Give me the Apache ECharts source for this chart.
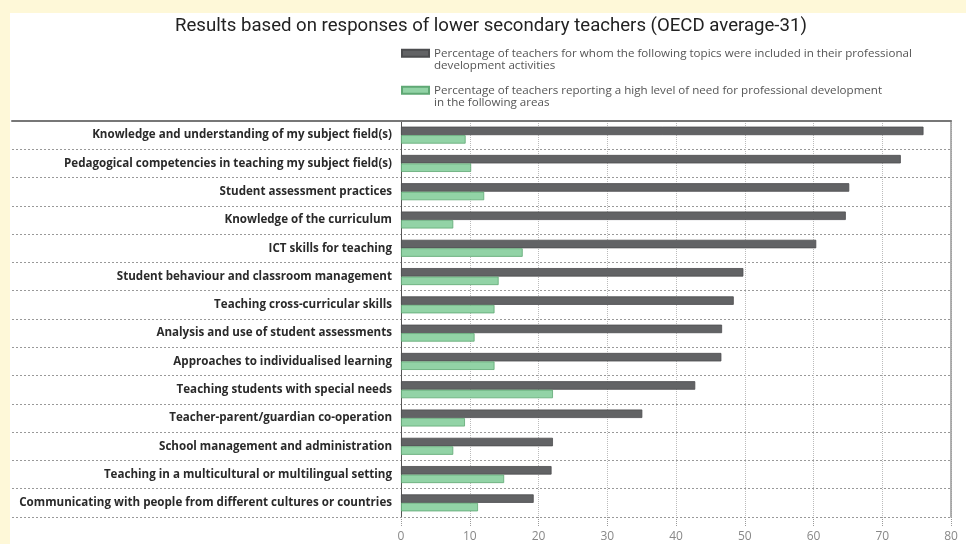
<!DOCTYPE html>
<html>
<head>
<meta charset="utf-8">
<script src="https://cdn.jsdelivr.net/npm/echarts@6/dist/echarts.min.js"></script>
<style>
  html, body { margin: 0; padding: 0; background: #fef8d8; }
  #panel { position: absolute; left: 10px; top: 13px; width: 956px; height: 531px; background: #fff; }
  #chart { position: absolute; left: 0; top: 0; width: 966px; height: 544px; }
</style>
</head>
<body>
<div id="panel"></div>
<div id="chart"></div>
<script>
// categories top to bottom, values in %
const categories = [
  'Knowledge and understanding of my subject field(s)',
  'Pedagogical competencies in teaching my subject field(s)',
  'Student assessment practices',
  'Knowledge of the curriculum',
  'ICT skills for teaching',
  'Student behaviour and classroom management',
  'Teaching cross-curricular skills',
  'Analysis and use of student assessments',
  'Approaches to individualised learning',
  'Teaching students with special needs',
  'Teacher-parent/guardian co-operation',
  'School management and administration',
  'Teaching in a multicultural or multilingual setting',
  'Communicating with people from different cultures or countries',
];
const includedPct = [76.0, 72.7, 65.2, 64.7, 60.4, 49.8, 48.4, 46.7, 46.6, 42.8, 35.1, 22.1, 21.9, 19.3];
const needPct = [9.4, 10.2, 12.1, 7.6, 17.7, 14.2, 13.6, 10.7, 13.6, 22.1, 9.3, 7.6, 15.0, 11.2];
const xTicks = [0, 10, 20, 30, 40, 50, 60, 70, 80];

const nameIncluded = 'Percentage of teachers for whom the following topics were included in their professional\ndevelopment activities';
const nameNeed = 'Percentage of teachers reporting a high level of need for professional development\nin the following areas';

const FONT = '"Open Sans", "Noto Sans", sans-serif';
const chart = echarts.init(document.getElementById('chart'));

// leading blank line keeps the swatch level with the first text line
const legendText = { fontFamily: FONT, fontSize: 11.6, color: '#555', lineHeight: 12.5 };
const legendBase = {
  left: 401, padding: 0, itemWidth: 27, itemHeight: 7, icon: 'rect',
  textStyle: legendText, selectedMode: false, formatter: (name) => '\n' + name,
};

chart.setOption({
  backgroundColor: 'transparent',
  animation: false,
  title: {
    text: 'Results based on responses of lower secondary teachers (OECD average-31)',
    left: 175, top: 17, padding: 0,
    textStyle: { fontFamily: 'Roboto, sans-serif', fontSize: 18.6, fontWeight: 'normal', color: '#222' },
  },
  legend: [
    { ...legendBase, data: [nameIncluded], top: 34.5 },
    { ...legendBase, data: [nameNeed], top: 71.5 },
  ],
  grid: [
    { left: 401, right: 15, top: 121, bottom: 27 },
    // frame + row separators across the label column
    { left: 12, right: 15, top: 121, bottom: 27 },
  ],
  xAxis: [
    {
      gridIndex: 0, type: 'value', min: 0, max: 80, interval: 10,
      axisLine: { show: false },
      axisTick: { show: true, length: 9, lineStyle: { color: '#999', type: 'dotted' } },
      axisLabel: {
        margin: 14, color: '#888', fontFamily: FONT, fontSize: 12,
        formatter: (v) => (xTicks.includes(v) ? String(v) : ''),
      },
      splitLine: { lineStyle: { color: '#bbb', type: 'dotted' } },
    },
    {
      gridIndex: 1, type: 'value', position: 'bottom', min: 0, max: 1,
      axisLine: { lineStyle: { color: '#666', width: 2 } },
      axisTick: { show: false }, axisLabel: { show: false }, splitLine: { show: false },
    },
    {
      gridIndex: 1, type: 'value', position: 'top', min: 0, max: 1,
      axisLine: { show: true, lineStyle: { color: '#777', width: 2 } },
      axisTick: { show: false }, axisLabel: { show: false }, splitLine: { show: false },
    },
  ],
  yAxis: [
    {
      gridIndex: 0, type: 'category', data: categories, inverse: true,
      axisLine: { lineStyle: { color: '#555', width: 1 } },
      axisTick: { show: false },
      axisLabel: { margin: 9, color: '#2a2a2a', fontFamily: FONT, fontSize: 11.6, fontWeight: 'bold' },
      splitLine: { show: false },
    },
    {
      gridIndex: 1, type: 'category', data: categories, inverse: true, position: 'right',
      axisLine: { show: true, onZero: false, lineStyle: { color: '#999', width: 1.5 } },
      axisTick: { show: false }, axisLabel: { show: false },
      splitLine: { show: true, lineStyle: { color: '#999', type: [2, 2], width: 1 } },
    },
  ],
  series: [
    {
      name: nameIncluded, type: 'bar', xAxisIndex: 0, yAxisIndex: 0, data: includedPct,
      barWidth: 8.5, barGap: '0%',
      itemStyle: { color: '#626365', borderColor: '#4c4d4f', borderWidth: 0.8 },
    },
    {
      name: nameNeed, type: 'bar', xAxisIndex: 0, yAxisIndex: 0, data: needPct,
      barWidth: 8.5, barGap: '0%',
      itemStyle: { color: '#92d3a6', borderColor: '#5fa874', borderWidth: 0.8 },
    },
  ],
});
</script>
</body>
</html>
